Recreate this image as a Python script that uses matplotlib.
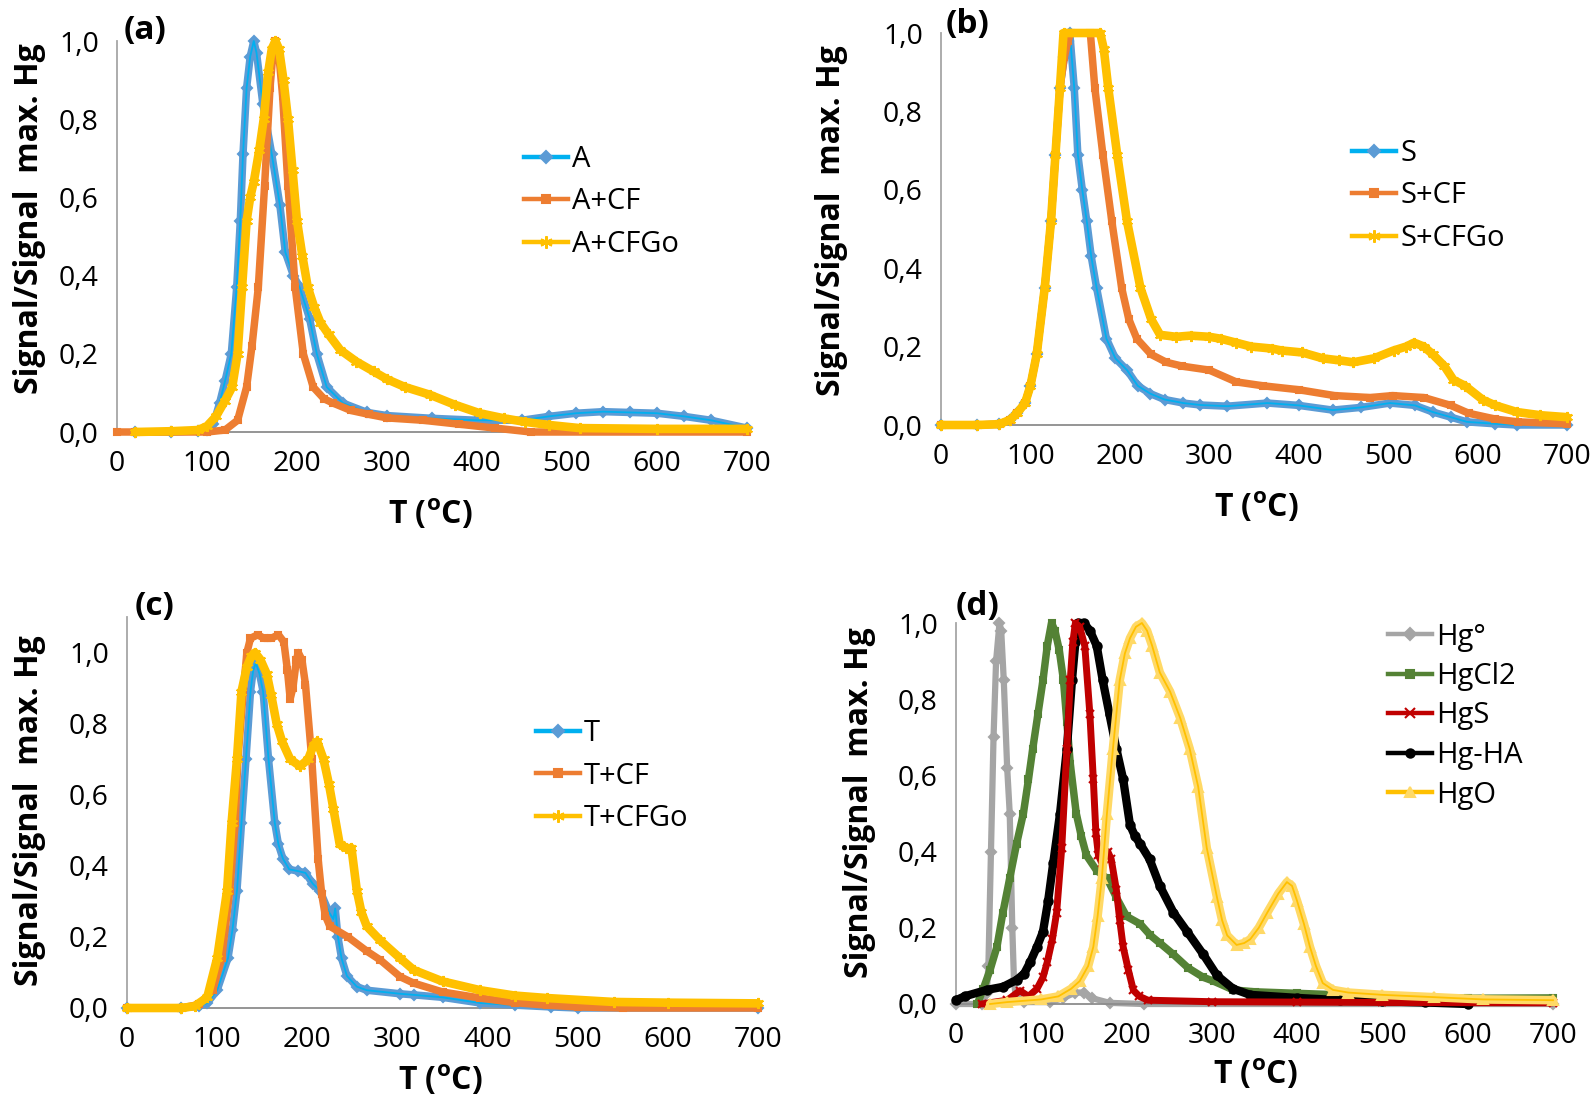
import matplotlib
matplotlib.use("Agg")
import matplotlib.pyplot as plt
from matplotlib.lines import Line2D

plt.rcParams['font.family'] = ['Open Sans', 'DejaVu Sans']
plt.rcParams['mathtext.fontset'] = 'custom'
plt.rcParams['mathtext.rm'] = 'Open Sans'
plt.rcParams['mathtext.bf'] = 'Open Sans:bold'

# ---------------- data (T in °C, normalised signal) ----------------
# panel (a)
a_A_T = [20, 60, 90, 100, 107, 114, 120, 127, 133, 137, 140, 144, 148, 152, 155, 162, 172, 181, 187, 196, 203,
         214, 222, 233, 251, 278, 300, 350, 400, 450, 480, 510, 540, 570, 600, 630, 660, 700]
a_A_V = [0, 0, 0.003, 0.005, 0.02, 0.074, 0.13, 0.2, 0.37, 0.54, 0.71, 0.88, 0.96, 1.0, 0.97, 0.84, 0.71, 0.58,
         0.46, 0.40, 0.37, 0.29, 0.2, 0.115, 0.074, 0.05, 0.042, 0.035, 0.03, 0.03, 0.04, 0.048, 0.052, 0.05,
         0.048, 0.04, 0.03, 0.01]
a_CF_T = [0, 20, 100, 120, 134, 144, 150, 157, 164, 170, 173, 176, 180, 184, 190, 198, 207, 218, 230, 240, 260,
          280, 300, 340, 380, 420, 460, 700]
a_CF_V = [0, 0, 0, 0.005, 0.03, 0.115, 0.22, 0.37, 0.63, 0.88, 0.96, 1.0, 0.96, 0.86, 0.63, 0.37, 0.2, 0.115,
          0.085, 0.074, 0.055, 0.045, 0.036, 0.03, 0.02, 0.01, 0.0, 0.0]
a_CFGo_T = [20, 60, 90, 100, 110, 120, 128, 134, 139, 144, 148, 152, 158, 163, 168, 172, 176, 180, 185, 190, 195,
            200, 206, 212, 219, 226, 235, 248, 266, 285, 300, 320, 348, 375, 403, 430, 453, 480, 514, 600, 700]
a_CFGo_V = [0, 0.002, 0.005, 0.015, 0.04, 0.08, 0.115, 0.2, 0.37, 0.54, 0.6, 0.64, 0.72, 0.8, 0.92, 0.98, 1.0,
            0.98, 0.9, 0.8, 0.67, 0.54, 0.45, 0.37, 0.32, 0.28, 0.25, 0.21, 0.18, 0.155, 0.135, 0.115, 0.095,
            0.07, 0.048, 0.035, 0.026, 0.018, 0.01, 0.008, 0.008]

# panel (b)
b_S_T = [0, 40, 65, 77, 85, 94, 100, 107, 116, 123, 128, 133, 138, 142, 144, 149, 153, 158, 163, 168, 174, 185,
         195, 208, 220, 234, 250, 271, 290, 320, 365, 400, 438, 470, 502, 530, 550, 570, 588, 620, 644, 700]
b_S_V = [0, 0, 0.002, 0.013, 0.03, 0.056, 0.1, 0.18, 0.35, 0.52, 0.69, 0.86, 0.94, 0.98, 1.0, 0.86, 0.69, 0.6,
         0.52, 0.43, 0.35, 0.22, 0.17, 0.14, 0.1, 0.08, 0.065, 0.056, 0.051, 0.048, 0.056, 0.05, 0.038, 0.045,
         0.056, 0.05, 0.033, 0.02, 0.008, 0.003, 0.0, 0.0]
b_CF_T = [0, 40, 65, 77, 85, 94, 100, 107, 116, 123, 128, 133, 138, 142, 145, 167, 172, 181, 191, 202, 210, 219,
          235, 252, 270, 300, 330, 360, 400, 440, 480, 505, 540, 570, 590, 620, 645, 700]
b_CF_V = [0, 0, 0.002, 0.013, 0.03, 0.056, 0.1, 0.18, 0.35, 0.52, 0.69, 0.86, 0.94, 0.98, 1.0, 1.0, 0.86, 0.69,
          0.52, 0.35, 0.27, 0.22, 0.18, 0.16, 0.15, 0.14, 0.11, 0.1, 0.09, 0.075, 0.07, 0.075, 0.07, 0.05, 0.03,
          0.015, 0.008, 0.003]
b_CFGo_T = [0, 40, 65, 77, 85, 94, 100, 107, 116, 123, 128, 133, 137, 178, 182, 187, 197, 208, 223, 235, 245, 263,
            279, 300, 313, 330, 347, 370, 381, 404, 427, 445, 461, 484, 506, 520, 529, 540, 550, 563, 573, 586,
            606, 620, 644, 670, 700]
b_CFGo_V = [0, 0, 0.002, 0.013, 0.03, 0.056, 0.1, 0.18, 0.35, 0.52, 0.69, 0.86, 1.0, 1.0, 0.96, 0.86, 0.69, 0.52,
            0.35, 0.27, 0.23, 0.225, 0.228, 0.225, 0.22, 0.21, 0.2, 0.195, 0.19, 0.185, 0.17, 0.165, 0.16, 0.17,
            0.19, 0.2, 0.21, 0.2, 0.18, 0.15, 0.115, 0.1, 0.064, 0.05, 0.033, 0.025, 0.02]

# panel (c)
c_T_T = [0, 60, 80, 89, 100, 112, 117, 122, 127, 132, 137, 140, 143, 147, 151, 157, 164, 168, 173, 180, 190, 198,
         206, 214, 224, 229, 231, 234, 238, 244, 255, 266, 303, 318, 350, 392, 430, 470, 500, 700]
c_T_V = [0, 0, 0.005, 0.014, 0.05, 0.14, 0.22, 0.33, 0.52, 0.70, 0.89, 0.95, 0.97, 0.94, 0.89, 0.70, 0.52, 0.46,
         0.42, 0.39, 0.385, 0.38, 0.35, 0.33, 0.27, 0.25, 0.28, 0.2, 0.14, 0.09, 0.06, 0.05, 0.04, 0.037, 0.03,
         0.014, 0.008, 0.003, 0.0, 0.0]
c_CF_T = [0, 60, 80, 95, 105, 114, 120, 123, 129, 133, 137, 145, 152, 160, 168, 174, 178, 181, 184, 188, 190, 194,
          198, 205, 212, 216, 220, 225, 245, 266, 281, 303, 318, 350, 392, 430, 466, 500, 550, 700]
c_CF_V = [0, 0, 0.01, 0.05, 0.14, 0.33, 0.52, 0.70, 0.89, 1.0, 1.04, 1.05, 1.04, 1.04, 1.05, 1.03, 0.95, 0.87,
          0.9, 0.98, 1.0, 0.98, 0.91, 0.70, 0.42, 0.32, 0.26, 0.23, 0.2, 0.16, 0.135, 0.088, 0.07, 0.045, 0.028,
          0.015, 0.008, 0.003, 0.0, 0.0]
c_CFGo_T = [0, 60, 75, 89, 100, 111, 116, 122, 127, 133, 138, 142, 148, 155, 160, 166, 172, 181, 192, 201, 207,
            211, 218, 224, 229, 236, 243, 249, 255, 260, 266, 281, 303, 318, 350, 392, 430, 466, 540, 600, 700]
c_CFGo_V = [0, 0, 0.005, 0.03, 0.14, 0.33, 0.52, 0.70, 0.89, 0.96, 0.99, 1.0, 0.98, 0.94, 0.88, 0.80, 0.75, 0.70,
            0.68, 0.70, 0.74, 0.75, 0.70, 0.63, 0.56, 0.46, 0.45, 0.45, 0.33, 0.27, 0.23, 0.19, 0.14, 0.107,
            0.075, 0.05, 0.035, 0.028, 0.017, 0.015, 0.013]

# panel (d)
d_Hg0_T = [0, 30, 36, 38, 41, 44, 47, 51, 53, 56, 60, 63, 66, 68, 70, 80, 110, 125, 140, 150, 160, 180, 220, 700]
d_Hg0_V = [0, 0, 0.03, 0.1, 0.4, 0.7, 0.9, 1.0, 0.98, 0.85, 0.62, 0.5, 0.2, 0.06, 0.02, 0.005, 0.005, 0.015,
           0.03, 0.03, 0.015, 0.003, 0, 0]
d_HgCl2_T = [25, 32, 40, 48, 55, 63, 71, 79, 85, 90, 96, 102, 107, 112, 116, 121, 126, 130, 134, 141, 147, 153,
             165, 177, 188, 200, 216, 228, 239, 255, 272, 290, 302, 325, 350, 400, 500, 600, 700]
d_HgCl2_V = [0, 0.04, 0.09, 0.15, 0.24, 0.33, 0.42, 0.5, 0.59, 0.67, 0.76, 0.85, 0.94, 1.0, 0.98, 0.93, 0.85,
             0.74, 0.63, 0.5, 0.44, 0.39, 0.35, 0.33, 0.28, 0.23, 0.21, 0.18, 0.16, 0.13, 0.095, 0.07, 0.06,
             0.037, 0.032, 0.028, 0.02, 0.015, 0.016]
d_HgS_T = [30, 60, 75, 85, 95, 102, 107, 113, 118, 124, 130, 134, 137, 140, 145, 151, 157, 161, 164, 167, 171,
           175, 178, 182, 188, 192, 196, 202, 208, 215, 225, 300, 400, 500, 700]
d_HgS_V = [0, 0.01, 0.035, 0.02, 0.04, 0.07, 0.11, 0.17, 0.24, 0.41, 0.67, 0.85, 0.95, 1.0, 0.99, 0.94, 0.76,
           0.59, 0.45, 0.39, 0.37, 0.39, 0.40, 0.38, 0.3, 0.22, 0.15, 0.09, 0.036, 0.02, 0.01, 0.006, 0.005,
           0.004, 0.003]
d_HgHA_T = [0, 10, 36, 55, 71, 80, 87, 95, 102, 108, 114, 122, 130, 136, 140, 143, 150, 157, 165, 172, 180, 188,
            196, 204, 210, 216, 227, 239, 255, 271, 290, 306, 325, 345, 400, 450, 500, 550, 600]
d_HgHA_V = [0.01, 0.02, 0.037, 0.045, 0.063, 0.08, 0.11, 0.15, 0.19, 0.27, 0.37, 0.5, 0.67, 0.85, 0.95, 1.0,
            1.0, 0.98, 0.94, 0.85, 0.76, 0.67, 0.59, 0.47, 0.44, 0.42, 0.38, 0.31, 0.24, 0.19, 0.13, 0.075, 0.04,
            0.024, 0.016, 0.01, 0.007, 0.004, 0.0]
d_HgO_T = [40, 60, 100, 120, 135, 145, 155, 161, 166, 171, 177, 184, 192, 198, 204, 211, 218, 224, 230, 239, 251,
           263, 274, 284, 294, 306, 312, 318, 329, 338, 345, 355, 365, 378, 388, 394, 400, 408, 415, 422, 430,
           442, 460, 500, 560, 618, 700]
d_HgO_V = [0, 0.005, 0.012, 0.02, 0.04, 0.06, 0.1, 0.15, 0.23, 0.33, 0.5, 0.67, 0.85, 0.92, 0.96, 0.99, 1.0,
           0.98, 0.94, 0.87, 0.82, 0.75, 0.67, 0.57, 0.41, 0.28, 0.22, 0.18, 0.155, 0.16, 0.17, 0.2, 0.24, 0.29,
           0.32, 0.31, 0.27, 0.21, 0.15, 0.1, 0.055, 0.037, 0.03, 0.024, 0.018, 0.012, 0.01]

x_ticks = [0, 100, 200, 300, 400, 500, 600, 700]
y_ticks = [0.0, 0.2, 0.4, 0.6, 0.8, 1.0]
y_ticklabels = ['0,0', '0,2', '0,4', '0,6', '0,8', '1,0']

BLUE_M, BLUE_L = '#5B9BD5', '#00B0F0'
ORANGE = '#ED7D31'
YELLOW = '#FFC000'

W, H = 1594, 1103
fig = plt.figure(figsize=(W / 100, H / 100), dpi=100)


def fx(px):
    return px / W


def fy(py):
    return 1 - py / H


def make_ax(left, right, bottom, top, ymax):
    ax = fig.add_axes([fx(left), fy(bottom), fx(right) - fx(left), fy(top) - fy(bottom)])
    ax.set_xlim(0, 700)
    ax.set_ylim(0, ymax)
    ax.set_xticks(x_ticks)
    ax.set_yticks(y_ticks)
    ax.set_yticklabels(y_ticklabels)
    for s in ['top', 'right']:
        ax.spines[s].set_visible(False)
    ax.spines['left'].set_color('#A6A6A6')
    ax.spines['bottom'].set_color('#8C8C8C')
    ax.spines['left'].set_linewidth(1.3)
    ax.spines['bottom'].set_linewidth(1.3)
    ax.tick_params(length=0, labelsize=20.5, pad=13, colors='black')
    ax.patch.set_visible(False)
    return ax


def series(ax, T, V, mcol, lcol, marker, ms, z, lw=5.4, thin=False):
    ax.plot(T, V, color=mcol, lw=lw, marker=marker, ms=ms, mfc=mcol, mec=mcol, mew=1.5,
            solid_joinstyle='round', solid_capstyle='round', clip_on=False, zorder=z)
    if thin:
        ax.plot(T, V, color=lcol, lw=1.3, clip_on=False, zorder=z + 0.1)


def handle(lcol, mcol, marker, ms):
    return Line2D([], [], color=lcol, lw=3.2, marker=marker, ms=ms, mfc=mcol, mec=mcol, mew=1.5)


def legend(ax, handles, labels, x_px, yc_px, spacing):
    ax.legend(handles, labels, loc='center left', bbox_to_anchor=(fx(x_px), fy(yc_px)),
              bbox_transform=fig.transFigure, frameon=False, borderpad=0, borderaxespad=0,
              handlelength=1.5, handletextpad=0.15, labelspacing=spacing, fontsize=21)


STAR = (6, 2, 0)

# ---------- (a)
axa = make_ax(117, 747, 432, 41, 1.0)
series(axa, a_A_T, a_A_V, BLUE_M, BLUE_L, 'D', 5, 3, thin=True)
series(axa, a_CF_T, a_CF_V, ORANGE, ORANGE, 's', 5, 4)
series(axa, a_CFGo_T, a_CFGo_V, YELLOW, YELLOW, STAR, 8, 5, lw=6.2)
legend(axa, [handle(BLUE_L, BLUE_M, 'D', 6), handle(ORANGE, ORANGE, 's', 6), handle(YELLOW, YELLOW, STAR, 9)],
       ['A', 'A+CF', 'A+CFGo'], 524, 202, 0.46)

# ---------- (b)
axb = make_ax(941, 1567, 425, 33, 1.0)
series(axb, b_S_T, b_S_V, BLUE_M, BLUE_L, 'D', 5, 3, thin=True)
series(axb, b_CF_T, b_CF_V, ORANGE, ORANGE, 's', 5, 4)
series(axb, b_CFGo_T, b_CFGo_V, YELLOW, YELLOW, STAR, 8, 5, lw=6.2)
legend(axb, [handle(BLUE_L, BLUE_M, 'D', 6), handle(ORANGE, ORANGE, 's', 6), handle(YELLOW, YELLOW, STAR, 9)],
       ['S', 'S+CF', 'S+CFGo'], 1352, 196, 0.46)

# ---------- (c)
axc = make_ax(127, 758, 1008, 617, 1.1)
series(axc, c_T_T, c_T_V, BLUE_M, BLUE_L, 'D', 5, 3, thin=True)
series(axc, c_CF_T, c_CF_V, ORANGE, ORANGE, 's', 5, 4)
series(axc, c_CFGo_T, c_CFGo_V, YELLOW, YELLOW, STAR, 8, 5, lw=6.2)
legend(axc, [handle(BLUE_L, BLUE_M, 'D', 6), handle(ORANGE, ORANGE, 's', 6), handle(YELLOW, YELLOW, STAR, 9)],
       ['T', 'T+CF', 'T+CFGo'], 536, 776, 0.46)

# ---------- (d)
GRAY, GREEN, RED, LYEL = '#A5A5A5', '#548235', '#C00000', '#FFD966'
axd = make_ax(956, 1553, 1004, 623, 1.0)
series(axd, d_Hg0_T, d_Hg0_V, GRAY, GRAY, 'D', 5, 2, lw=4.5)
series(axd, d_HgCl2_T, d_HgCl2_V, GREEN, GREEN, 's', 5, 3)
series(axd, d_HgHA_T, d_HgHA_V, 'black', 'black', 'o', 6, 4, lw=6.0)
series(axd, d_HgS_T, d_HgS_V, RED, RED, 'x', 6, 5, lw=5.0)
series(axd, d_HgO_T, d_HgO_V, LYEL, YELLOW, '^', 7, 6, lw=6.2, thin=True)
legend(axd, [handle(GRAY, GRAY, 'D', 6), handle(GREEN, GREEN, 's', 6), handle(RED, RED, 'x', 7),
             handle('black', 'black', 'o', 6), handle(YELLOW, LYEL, '^', 7)],
       ['Hg°', 'HgCl2', 'HgS', 'Hg-HA', 'HgO'], 1388, 716, 0.36)

# ---------- texts
ylab = 'Signal/Signal  max. Hg'
xlab = r'T ($^{\mathbf{o}}$C)'
for (x, y) in [(30, 219), (832, 221), (30, 811), (859, 803)]:
    fig.text(fx(x), fy(y), ylab, rotation=90, ha='center', va='center', fontsize=23, fontweight='bold')
for (x, y) in [(430, 515), (1256, 508), (440, 1081), (1255, 1075)]:
    fig.text(fx(x), fy(y), xlab, ha='center', va='center', fontsize=23, fontweight='bold')
for (t, x, y) in [('(a)', 145, 30), ('(b)', 968, 24), ('(c)', 155, 607), ('(d)', 978, 607)]:
    fig.text(fx(x), fy(y), t, ha='center', va='center', fontsize=24, fontweight='bold')

fig.savefig('out.png', dpi=100, facecolor='white')
